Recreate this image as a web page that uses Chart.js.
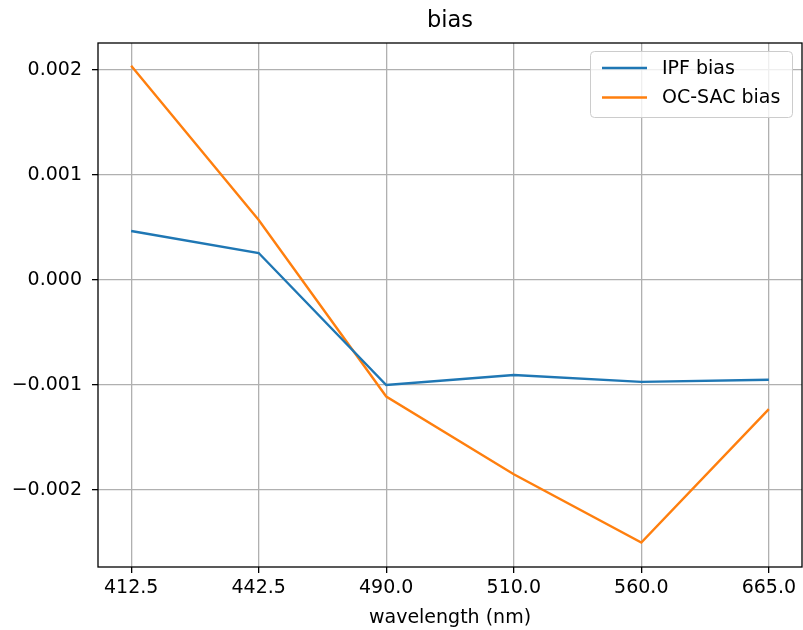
<!DOCTYPE html>
<html>
  <head>
    <script src="https://cdn.jsdelivr.net/npm/chart.js@4/dist/chart.umd.min.js"></script>
    <style>
      html, body { margin: 0; padding: 0; background: #fff; }
      .chart-container { width: 803px; height: 630px; }
    </style>
  </head>
  <body>
    <div class="chart-container">
      <canvas id="myChart" width="803" height="630"></canvas>
    </div>
    <script>
      // wavelengths (plotted as evenly spaced categories)
      var wavelengths = ["412.5", "442.5", "490.0", "510.0", "560.0", "665.0"];
      var ipfBias = [0.000467, 0.000257, -0.001, -0.000905, -0.00097, -0.00095];
      var ocsacBias = [0.00204, 0.000571, -0.00111, -0.00185, -0.0025, -0.00123];
      var yTicks = [-0.002, -0.001, 0, 0.001, 0.002];

      var FONT = "'DejaVu Sans', sans-serif";
      var FS = 19;

      function toPoints(arr) {
        return arr.map(function (v, i) { return { x: i, y: v }; });
      }

      // title, border and legend drawn on top of the plot
      var extras = {
        id: "extras",
        afterDraw: function (chart) {
          var ctx = chart.ctx;
          var a = chart.chartArea;
          ctx.save();
          ctx.strokeStyle = "#000";
          ctx.lineWidth = 1.3;
          ctx.strokeRect(a.left, a.top, a.right - a.left, a.bottom - a.top);

          ctx.fillStyle = "#000";
          ctx.font = "22.5px " + FONT;
          ctx.textAlign = "center";
          ctx.textBaseline = "middle";
          ctx.fillText("bias", (a.left + a.right) / 2, 21);

          // legend
          var bx = 590, by = 51, bw = 202, bh = 66;
          ctx.fillStyle = "rgba(255,255,255,0.8)";
          ctx.strokeStyle = "#cccccc";
          ctx.lineWidth = 1;
          ctx.beginPath();
          ctx.roundRect(bx + 0.5, by + 0.5, bw, bh, 4);
          ctx.fill();
          ctx.stroke();
          ctx.font = FS + "px " + FONT;
          ctx.textAlign = "left";
          chart.data.datasets.forEach(function (ds, i) {
            var y = 68 + i * 29.5;
            ctx.strokeStyle = ds.borderColor;
            ctx.lineWidth = 2.4;
            ctx.beginPath();
            ctx.moveTo(602, y);
            ctx.lineTo(647, y);
            ctx.stroke();
            ctx.fillStyle = "#000";
            ctx.fillText(ds.label, 662, y + 1);
          });
          ctx.restore();
        },
      };

      var ctx = document.getElementById("myChart").getContext("2d");
      var chart = new Chart(ctx, {
        type: "line",
        data: {
          datasets: [
            {
              label: "IPF bias",
              data: toPoints(ipfBias),
              borderColor: "#1f77b4",
              borderWidth: 2.4,
              pointRadius: 0,
              fill: false,
            },
            {
              label: "OC-SAC bias",
              data: toPoints(ocsacBias),
              borderColor: "#ff7f0e",
              borderWidth: 2.4,
              pointRadius: 0,
              fill: false,
            },
          ],
        },
        options: {
          responsive: false,
          animation: false,
          devicePixelRatio: 1,
          layout: { padding: { top: 43, right: 1, left: 0, bottom: 0 } },
          plugins: {
            legend: { display: false },
            title: { display: false },
            tooltip: { enabled: false },
          },
          scales: {
            x: {
              type: "linear",
              min: -0.26,
              max: 5.26,
              afterBuildTicks: function (scale) {
                scale.ticks = wavelengths.map(function (w, i) { return { value: i }; });
              },
              afterFit: function (scale) { scale.height = 63; },
              ticks: {
                color: "#000",
                font: { family: FONT, size: FS },
                padding: 4,
                maxRotation: 0,
                autoSkip: false,
                callback: function (v) { return wavelengths[v]; },
              },
              grid: { color: "#b0b0b0", lineWidth: 1.3, tickColor: "#000", tickLength: 6 },
              border: { display: false },
              title: {
                display: true,
                text: "wavelength (nm)",
                color: "#000",
                font: { family: FONT, size: FS },
                padding: { top: 0, bottom: 1 },
              },
            },
            y: {
              min: -0.002733,
              max: 0.002257,
              afterBuildTicks: function (scale) {
                scale.ticks = yTicks.map(function (v) { return { value: v }; });
              },
              afterFit: function (scale) { scale.width = 98; },
              ticks: {
                color: "#000",
                font: { family: FONT, size: FS },
                padding: 10,
                autoSkip: false,
                callback: function (v) { return v.toFixed(3).replace("-", "\u2212"); },
              },
              grid: { color: "#b0b0b0", lineWidth: 1.3, tickColor: "#000", tickLength: 6 },
              border: { display: false },
            },
          },
        },
        plugins: [extras],
      });
    </script>
  </body>
</html>
